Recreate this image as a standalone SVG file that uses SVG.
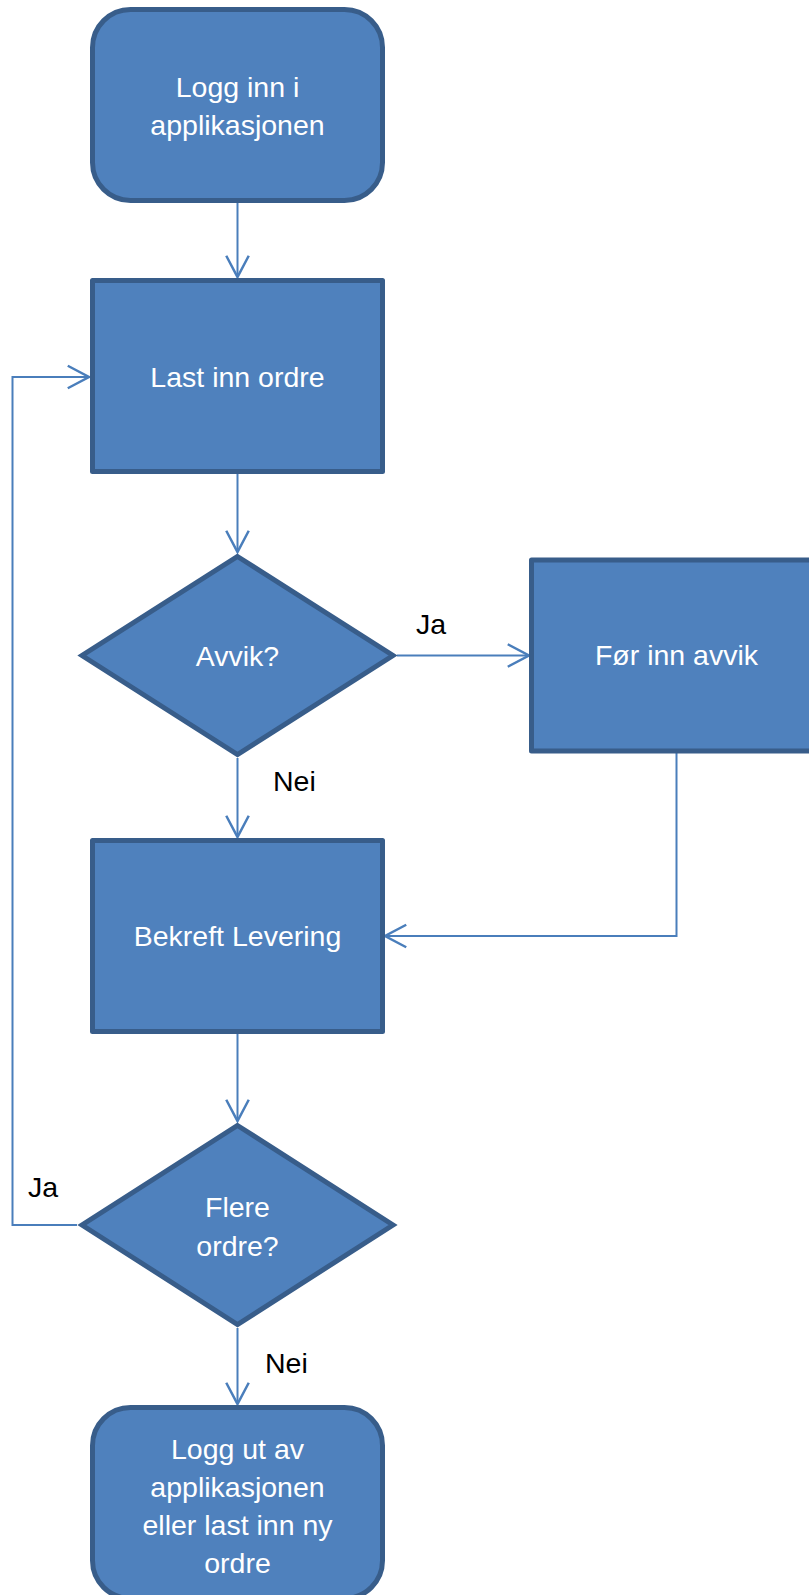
<svg xmlns="http://www.w3.org/2000/svg" width="809" height="1595" viewBox="0 0 809 1595">
<style>
.shape{fill:#4F81BD;stroke:#385D8A;stroke-width:5;stroke-linejoin:round}
.dia{stroke-linejoin:miter;stroke-miterlimit:10}
.t{font-family:"Liberation Sans",Arial,sans-serif;font-size:28.5px;fill:#FFFFFF;text-anchor:middle}
.lbl{font-family:"Liberation Sans",Arial,sans-serif;font-size:28.5px;fill:#000000}
.conn{fill:none;stroke:#4A7EBB;stroke-width:2}
</style>
<defs>
<marker id="arr" markerUnits="userSpaceOnUse" markerWidth="30" markerHeight="30" viewBox="-20 -12 24 24" refX="0" refY="0" orient="auto">
<path d="M -17 -9 L 0 0 L -17 9" fill="none" stroke="#4A7EBB" stroke-width="2"/>
</marker>
</defs>
<rect width="809" height="1595" fill="#FFFFFF"/>
<g id="connectors">
<path class="conn" d="M 237.5 203 L 237.5 277" marker-end="url(#arr)"/>
<path class="conn" d="M 237.5 474 L 237.5 552" marker-end="url(#arr)"/>
<path class="conn" d="M 397 655.5 L 529 655.5" marker-end="url(#arr)"/>
<path class="conn" d="M 237.5 758 L 237.5 837" marker-end="url(#arr)"/>
<path class="conn" d="M 676.5 753 L 676.5 936 L 385 936" marker-end="url(#arr)"/>
<path class="conn" d="M 237.5 1034 L 237.5 1121" marker-end="url(#arr)"/>
<path class="conn" d="M 77 1225 L 12.5 1225 L 12.5 377 L 89 377" marker-end="url(#arr)"/>
<path class="conn" d="M 237.5 1328 L 237.5 1404" marker-end="url(#arr)"/>
<text class="lbl" x="416" y="634">Ja</text>
<text class="lbl" x="273" y="791">Nei</text>
<text class="lbl" x="28" y="1197">Ja</text>
<text class="lbl" x="265" y="1373">Nei</text>
</g>
<g id="start">
<rect class="shape" x="92.5" y="9.5" width="290" height="191" rx="38" ry="38"/>
<text class="t" x="237.5" y="97">Logg inn i</text>
<text class="t" x="237.5" y="135">applikasjonen</text>
</g>
<g id="last-inn-ordre">
<rect class="shape" x="92.5" y="280.5" width="290" height="191"/>
<text class="t" x="237.5" y="387">Last inn ordre</text>
</g>
<g id="avvik">
<path class="shape dia" d="M 237.5 556.5 L 393 655.5 L 237.5 754.5 L 82 655.5 Z"/>
<text class="t" x="237.5" y="666">Avvik?</text>
</g>
<g id="for-inn-avvik">
<rect class="shape" x="531.5" y="560" width="290" height="191"/>
<text class="t" x="676.5" y="665">Før inn avvik</text>
</g>
<g id="bekreft-levering">
<rect class="shape" x="92.5" y="840.5" width="290" height="191"/>
<text class="t" x="237.5" y="946">Bekreft Levering</text>
</g>
<g id="flere-ordre">
<path class="shape dia" d="M 237.5 1125.5 L 393 1225 L 237.5 1324.5 L 82 1225 Z"/>
<text class="t" x="237.5" y="1217">Flere</text>
<text class="t" x="237.5" y="1256">ordre?</text>
</g>
<g id="end">
<rect class="shape" x="92.5" y="1407.5" width="290" height="191" rx="38" ry="38"/>
<text class="t" x="237.5" y="1459">Logg ut av</text>
<text class="t" x="237.5" y="1497">applikasjonen</text>
<text class="t" x="237.5" y="1535">eller last inn ny</text>
<text class="t" x="237.5" y="1573">ordre</text>
</g>
</svg>
